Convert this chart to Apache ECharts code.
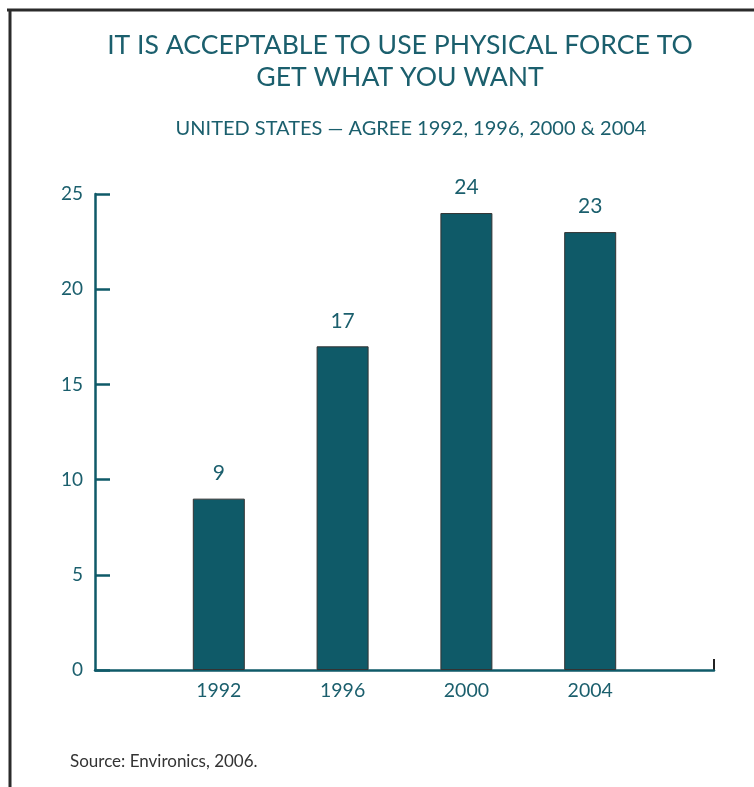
<!DOCTYPE html>
<html>
<head>
<meta charset="utf-8">
<script src="https://cdn.jsdelivr.net/npm/echarts@6/dist/echarts.min.js"></script>
<style>
  html, body { margin: 0; padding: 0; background: #fff; }
  #chart { width: 754px; height: 787px; }
</style>
</head>
<body>
<div id="chart"></div>
<script>
// Share of respondents agreeing (%)
const years = ['1992', '1996', '2000', '2004'];
const agreeValues = [9, 17, 24, 23];
const yTicks = [0, 5, 10, 15, 20, 25];

const titleLines = ['IT IS ACCEPTABLE TO USE PHYSICAL FORCE TO', 'GET WHAT YOU WANT'];
const subtitleText = 'UNITED STATES \u2014 AGREE 1992, 1996, 2000 & 2004';
const sourceText = 'Source: Environics, 2006.';

const teal = '#0f5a68';
const textTeal = '#1b5f6d';
const fontFamily = 'Lato, "Noto Sans", sans-serif';

// Pad the category axis with blank slots so bars sit on tick positions
const categories = [''].concat(years, ['']);
const seriesData = [null].concat(agreeValues, [null]);

const chart = echarts.init(document.getElementById('chart'), null, { renderer: 'canvas' });

chart.setOption({
  backgroundColor: '#fff',
  animation: false,
  title: [
    {
      text: titleLines.join('\n'),
      left: 395, top: 25, textAlign: 'center',
      textStyle: { color: textTeal, fontFamily, fontWeight: 'normal', fontSize: 26.6, lineHeight: 31.5 }
    },
    {
      text: subtitleText,
      left: 406, top: 114, textAlign: 'center',
      textStyle: { color: textTeal, fontFamily, fontWeight: 'normal', fontSize: 20 }
    },
    {
      text: sourceText,
      left: 65, top: 748,
      textStyle: { color: '#333', fontFamily, fontWeight: 'normal', fontSize: 17 }
    }
  ],
  grid: { left: 95, right: 40, top: 194, bottom: 117, containLabel: false },
  xAxis: {
    type: 'category',
    data: categories,
    boundaryGap: false,
    axisLine: { show: true, lineStyle: { color: teal, width: 2.5 } },
    axisTick: { show: false },
    axisLabel: { color: textTeal, fontFamily, fontSize: 19.5, margin: 11 },
    splitLine: { show: false }
  },
  yAxis: {
    type: 'value',
    min: yTicks[0],
    max: yTicks[yTicks.length - 1],
    interval: 5,
    axisLine: { show: true, lineStyle: { color: teal, width: 2.5 } },
    axisTick: { show: true, inside: true, length: 15, lineStyle: { color: teal, width: 2.5 } },
    axisLabel: { color: textTeal, fontFamily, fontSize: 19, margin: 12 },
    splitLine: { show: false }
  },
  series: [{
    type: 'bar',
    data: seriesData,
    barWidth: 52,
    itemStyle: { color: teal, borderColor: '#333', borderWidth: 1 },
    label: {
      show: true, position: 'top', distance: 15,
      color: textTeal, fontFamily, fontSize: 21
    }
  }],
  graphic: [
    // frame around the panel
    { type: 'line', shape: { x1: 7, y1: 10, x2: 754, y2: 10 }, style: { stroke: '#2b2b2b', lineWidth: 3 } },
    { type: 'line', shape: { x1: 10, y1: 9, x2: 10, y2: 787 }, style: { stroke: '#2b2b2b', lineWidth: 3 } },
    // closing tick at the end of the category axis
    { type: 'line', shape: { x1: 714, y1: 659, x2: 714, y2: 671 }, style: { stroke: '#222', lineWidth: 2 } }
  ]
});
</script>
</body>
</html>
